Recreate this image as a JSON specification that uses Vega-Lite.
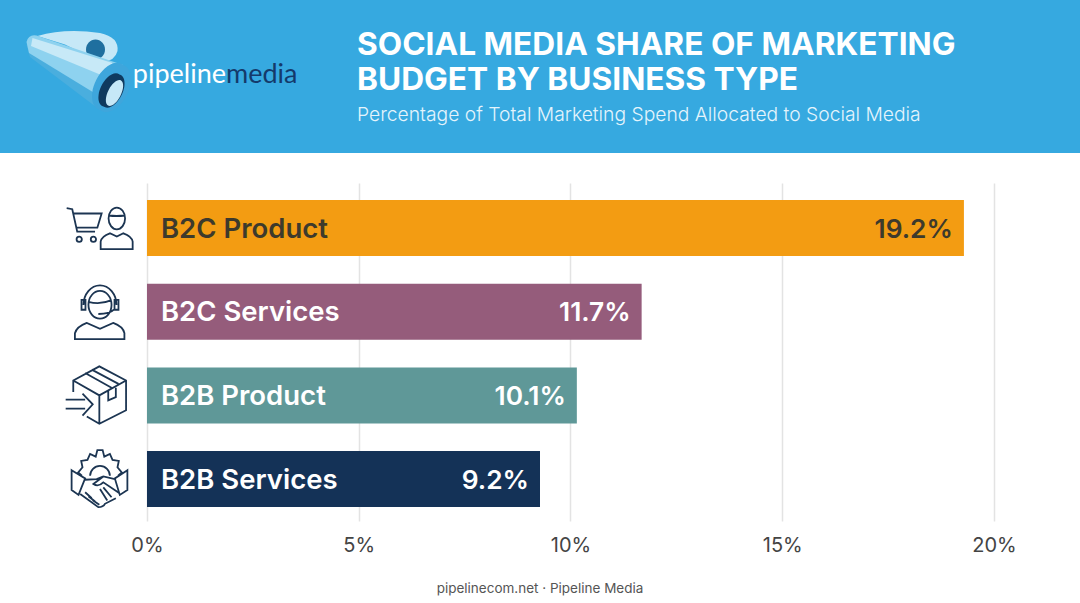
{"$schema":"https://vega.github.io/schema/vega-lite/v6.json","padding":0,"background":"#ffffff","spacing":30,"resolve":{"scale":{"shape":"independent","fill":"independent","color":"independent"}},"config":{"view":{"stroke":null},"font":"Inter"},
"vconcat":[
{"width":1080,"height":153,"view":{"fill":"#36a9e0","stroke":null},
"title":{"text":["SOCIAL MEDIA SHARE OF MARKETING","BUDGET BY BUSINESS TYPE"],"subtitle":"Percentage of Total Marketing Spend Allocated to Social Media","anchor":"start","frame":"group","orient":"top","offset":-125,"dx":357,"font":"Inter","fontSize":31.7,"fontWeight":700,"color":"#ffffff","lineHeight":35,"subtitleFont":"Inter","subtitleFontSize":19.3,"subtitleFontWeight":300,"subtitleColor":"#e4f4fc","subtitlePadding":9},
"layer":[
{"data":{"values":[{"part":"a"},{"part":"b"},{"part":"c"},{"part":"d"},{"part":"e"},{"part":"f"},{"part":"g"},{"part":"h"}]},
"mark":{"type":"point","filled":true,"size":10000,"opacity":1,"xOffset":-465,"yOffset":-4.5},
"encoding":{
"order":{"field":"part"},
"shape":{"field":"part","legend":null,"scale":{"domain":["a","b","c","d","e","f","g","h"],"range":[
"M-.75,-.72 Q-.2,-.88 .5,-.78 Q.88,-.7 .85,-.42 Q.8,-.22 .55,-.2 L.2,-.35 L-.2,-.55 Z",
"M.22,-.45 A.19,.2 0 1,1 .6,-.45 A.19,.2 0 1,1 .22,-.45 Z",
"M-.97,-.55 L-.9,-.3 L.5,.76 L.96,-.14 Z",
"M-.97,-.6 Q-.93,-.76 -.77,-.73 L.96,-.14 L.6,.55 L-.92,-.38 Z",
"M-.85,-.68 L.75,-.18 L.62,.1 L-.88,-.52 Z",
"M.96,-.14 A.51,.3 -63 1,1 .5,.76 A.51,.3 -63 1,1 .96,-.14 Z",
"M.89,.05 A.36,.2 -63 1,1 .57,.69 A.36,.2 -63 1,1 .89,.05 Z",
"M.92,.17 A.28,.13 -63 1,1 .66,.67 A.28,.13 -63 1,1 .92,.17 Z"]}},
"fill":{"field":"part","legend":null,"scale":{"domain":["a","b","c","d","e","f","g","h"],"range":["#c6e8f7","#1f6f9f","#4aaede","#8ed2ef","#c7e9f7","#3ea6dc","#0f3a5f","#c6e8f7"]}}}},
{"data":{"values":[{"word":"pipeline"}]},"mark":{"type":"text","font":"Lato","fontSize":27,"fontWeight":400,"align":"right","baseline":"alphabetic","color":"#ffffff","xOffset":-314,"yOffset":6.5},"encoding":{"text":{"field":"word"}}},
{"data":{"values":[{"word":"media"}]},"mark":{"type":"text","font":"Lato","fontSize":27,"fontWeight":400,"align":"left","baseline":"alphabetic","color":"#143a6b","xOffset":-314,"yOffset":6.5},"encoding":{"text":{"field":"word"}}}
]},
{"width":1080,"height":338,
"title":{"text":"pipelinecom.net · Pipeline Media","orient":"bottom","anchor":"middle","frame":"group","offset":27,"font":"Inter","fontSize":13.5,"fontWeight":400,"color":"#555555"},
"data":{"values":[
{"type":"B2C Product","share":0.1929,"label":"19.2%"},
{"type":"B2C Services","share":0.1168,"label":"11.7%"},
{"type":"B2B Product","share":0.1015,"label":"10.1%"},
{"type":"B2B Services","share":0.0928,"label":"9.2%"}]},
"encoding":{
"y":{"field":"type","type":"nominal","sort":null,"title":null,"scale":{"paddingInner":0.331,"paddingOuter":0.185,"align":0.55},"axis":null}},
"layer":[
{"mark":{"type":"bar"},"encoding":{
"x":{"field":"share","type":"quantitative","title":null,"scale":{"domain":[-0.03471,0.22031],"nice":false,"zero":false},"axis":{"values":[0,0.05,0.1,0.15,0.2],"format":".0%","grid":true,"gridColor":"#e3e3e3","gridWidth":1.5,"domain":false,"ticks":false,"labelFont":"Inter","labelFontSize":20,"labelColor":"#444444","labelPadding":14,"labelFlush":false}},
"x2":{"datum":0},
"color":{"field":"type","legend":null,"sort":null,"scale":{"domain":["B2C Product","B2C Services","B2B Product","B2B Services"],"range":["#f39c12","#955c7b","#5f9898","#143257"]}}}},
{"mark":{"type":"text","align":"left","baseline":"middle","font":"Inter","fontSize":27.5,"fontWeight":600,"xOffset":14,"yOffset":1.5},"encoding":{
"x":{"datum":0,"type":"quantitative"},"text":{"field":"type"},
"color":{"field":"type","legend":null,"scale":{"domain":["B2C Product","B2C Services","B2B Product","B2B Services"],"range":["#3d3a2c","#ffffff","#ffffff","#ffffff"]}}}},
{"mark":{"type":"text","align":"right","baseline":"middle","font":"Inter","fontSize":26.3,"fontWeight":600,"xOffset":-11,"yOffset":1.5},"encoding":{
"x":{"field":"share","type":"quantitative"},"text":{"field":"label"},
"color":{"field":"type","legend":null,"scale":{"domain":["B2C Product","B2C Services","B2B Product","B2B Services"],"range":["#3d3a2c","#ffffff","#ffffff","#ffffff"]}}}},
{"mark":{"type":"point","filled":false,"size":4356,"opacity":1,"stroke":"#1c3552","strokeWidth":1.8,"xOffset":-47},"encoding":{
"x":{"datum":0,"type":"quantitative"},
"shape":{"field":"type","legend":null,"scale":{"domain":["B2C Product","B2C Services","B2B Product","B2B Services"],"range":[
"M-1.01,-.6 L-.84,-.57 L-.69,.11 L-.15,.11 M-.81,-.44 L.05,-.44 L-.08,-.01 L-.73,-.01 M-.71,.34 A.08,.08 0 1,0 -.55,.34 A.08,.08 0 1,0 -.71,.34 M-.28,.34 A.08,.08 0 1,0 -.12,.34 A.08,.08 0 1,0 -.28,.34 M.26,-.29 A.25,.33 0 1,1 .76,-.29 A.25,.33 0 1,1 .26,-.29 M.26,-.38 Q.5,-.35 .76,-.38 M.02,.64 L.02,.41 Q.05,.25 .3,.16 L.51,.26 L.71,.16 Q.96,.25 .99,.41 L.99,.64 Z",
"M-.35,-.21 A.35,.42 0 1,1 .35,-.21 A.35,.42 0 1,1 -.35,-.21 M-.35,-.3 Q0,-.2 .35,-.35 M-.5,-.2 A.5,.6 0 0,1 .5,-.2 M-.56,-.36 L-.44,-.36 L-.44,-.06 L-.56,-.06 Z M.44,-.36 L.56,-.36 L.56,-.06 L.44,-.06 Z M.42,-.06 Q.3,.07 -.05,.07 M-.76,.83 L-.76,.65 Q-.7,.45 -.4,.34 L0,.52 L.4,.34 Q.7,.45 .74,.65 L.74,.83 Z",
"M-.81,-.1 L-.81,-.45 L-.02,-.88 L.79,-.45 L.79,.45 L-.02,.86 L-.4,.64 M-.81,-.45 L-.02,0 L.79,-.45 M-.02,0 L-.02,.86 M-.45,-.68 L.35,-.23 M-.25,-.78 L.56,-.35 M.25,-.13 L.25,.15 L.48,.05 L.48,-.23 M-1.04,.13 L-.45,.13 M-1.04,.4 L-.45,.4 M-.53,-.05 L-.22,.27 L-.53,.61",
"M-.55,-.1 L-.66,-.2 L-.53,-.36 L-.57,-.55 L-.38,-.58 L-.3,-.76 L-.13,-.68 L-.08,-.88 L.08,-.88 L.13,-.68 L.3,-.76 L.38,-.58 L.57,-.55 L.53,-.36 L.66,-.2 L.55,-.1 M-.3,-.1 A.3,.3 0 0,1 .3,-.1 M-.86,-.27 L-.45,-.02 L-.65,.48 L-.86,.33 Z M.83,-.27 L.45,-.02 L.6,.48 L.83,.33 Z M-.45,.02 L-.1,0 L.1,-.08 L.45,0 M.1,-.08 L-.2,.15 Q-.05,.25 .1,.1 L.58,.42 M-.6,.45 L-.05,.85 Q.1,.85 .15,.75 L.48,.58 M-.45,.4 L-.25,.58 M-.35,.52 L-.15,.68 M-.22,.64 L-.02,.78 M.1,.25 L.35,.55 M.0,.3 L.22,.65"]}}}}
],
"resolve":{"scale":{"color":"independent"}}}
]}
